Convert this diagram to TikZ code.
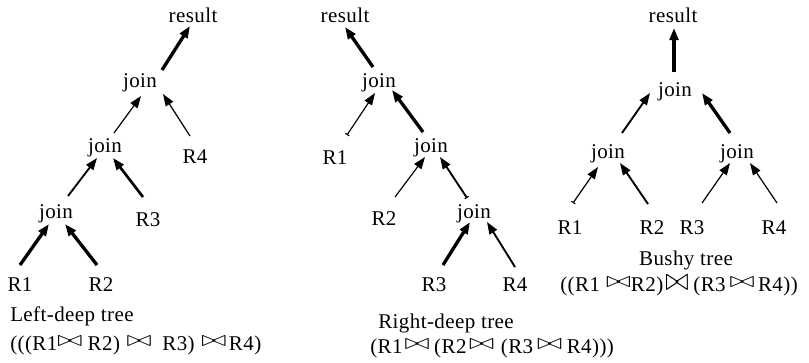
\documentclass[tikz,border=0pt]{standalone}
\usepackage{fontspec}
\setmainfont{Liberation Serif}[LetterSpace=2]
\usetikzlibrary{arrows.meta}
% join symbols used in the formulas (outline bow-ties)
\newcommand{\bt}{\raisebox{3pt}{\scalebox{1.6}[1.15]{$\bowtie$}}}
\newcommand{\bigbt}{\raisebox{0.3pt}{\scalebox{1.5}[1.7]{$\bowtie$}}}
\tikzset{
  lbl/.style={anchor=base, inner sep=0pt, font=\fontsize{15.75}{18}\selectfont},
  edge/.style={-{Triangle[length=9pt,width=6.5pt]}, line cap=butt},
  lwA/.style={edge, line width=0.9pt},
  lwB/.style={edge, line width=1.4pt},
  lwC/.style={edge, line width=2pt},
  lwD/.style={edge, line width=2.5pt},
  tickstart/.style={{Bar[width=3.5pt,line width=0.8pt]}-{Triangle[length=9pt,width=6.5pt]}},
}
\begin{document}
\begin{tikzpicture}[x=0.75pt, y=-0.75pt]
\useasboundingbox (0,0) rectangle (809,362);

% ---------- left-deep tree ----------
\node[lbl] (resL) at (193,22)  {result};
\node[lbl] (jL1)  at (140,87)  {join};
\node[lbl] (jL2)  at (105,152) {join};
\node[lbl] (jL3)  at (56,218)  {join};
\node[lbl] (R4L)  at (195,163) {R4};
\node[lbl] (R3L)  at (148,226) {R3};
\node[lbl] (R1L)  at (20,291)  {R1};
\node[lbl] (R2L)  at (101,291) {R2};
\node[lbl, anchor=base west] (capL)  at (10,321) {Left-deep tree};
\node[lbl, anchor=base west] (formL) at (10,350)
  {(((R1\bt\hspace{4pt}R2)\hspace{5pt}\bt\hspace{8pt}R3)\hspace{5pt}\bt\hspace{2pt}R4)};

\draw[lwD] ([shift={(22,-17)}]jL1.base) -- ([shift={(-3,4)}]resL.base);
\draw[lwA] ([shift={(9,-19)}]jL2.base)  -- ([shift={(1,9)}]jL1.base);
\draw[lwA] ([shift={(-5,-27)}]R4L.base) -- ([shift={(23,7)}]jL1.base);
\draw[lwB] ([shift={(12,-22)}]jL3.base) -- ([shift={(-8,6)}]jL2.base);
\draw[lwC] ([shift={(-5,-29)}]R3L.base) -- ([shift={(8,6)}]jL2.base);
\draw[lwD] ([shift={(0,-26)}]R1L.base)  -- ([shift={(-7,6)}]jL3.base);
\draw[lwD] ([shift={(-4,-26)}]R2L.base) -- ([shift={(9,6)}]jL3.base);

% ---------- right-deep tree ----------
\node[lbl] (resM) at (345,22)  {result};
\node[lbl] (jM1)  at (379,87)  {join};
\node[lbl] (R1M)  at (335,164) {R1};
\node[lbl] (jM2)  at (431,152) {join};
\node[lbl] (R2M)  at (384,225) {R2};
\node[lbl] (jM3)  at (474,218) {join};
\node[lbl] (R3M)  at (434,291) {R3};
\node[lbl] (R4M)  at (515,291) {R4};
\node[lbl, anchor=base west] (capM)  at (378,328) {Right-deep tree};
\node[lbl, anchor=base west] (formM) at (370,353)
  {(R1\hspace{1.5pt}\bt\hspace{3.5pt}(R2\hspace{2pt}\bt\hspace{5pt}(R3\hspace{3pt}\bt\hspace{3.5pt}R4)))};

\draw[lwD] ([shift={(-6,-20)}]jM1.base) -- ([shift={(0,5)}]resM.base);
\draw[lwA, tickstart] ([shift={(12,-29)}]R1M.base) -- ([shift={(-4,6)}]jM1.base);
\draw[lwD] ([shift={(-8,-20)}]jM2.base) -- ([shift={(13,3)}]jM1.base);
\draw[lwA] ([shift={(11,-28)}]R2M.base) -- ([shift={(-6,5)}]jM2.base);
\draw[lwB, tickstart] ([shift={(-7,-20)}]jM3.base) -- ([shift={(9,5)}]jM2.base);
\draw[lwD] ([shift={(9,-26)}]R3M.base) -- ([shift={(-4,4)}]jM3.base);
\draw[lwB] ([shift={(0,-24)}]R4M.base) -- ([shift={(13,4)}]jM3.base);

% ---------- bushy tree ----------
\node[lbl] (resR) at (673,22)  {result};
\node[lbl] (jR1)  at (675,96)  {join};
\node[lbl] (jRL)  at (608,158) {join};
\node[lbl] (jRR)  at (737,158) {join};
\node[lbl] (R1R)  at (570,234) {R1};
\node[lbl] (R2R)  at (652,234) {R2};
\node[lbl] (R3R)  at (692,234) {R3};
\node[lbl] (R4R)  at (774,234) {R4};
\node[lbl] (capR)  at (686,265) {Bushy tree};
\node[lbl, anchor=base west] (formR) at (560,291)
  {((R1\hspace{4.5pt}\bt R2)\hspace{1.5pt}\bigbt\hspace{3.5pt}(R3\hspace{3pt}\bt\hspace{2.5pt}R4))};

\draw[edge, line width=2.8pt] ([shift={(-1,-24)}]jR1.base) -- ([shift={(1,6)}]resR.base);
\draw[lwB] ([shift={(14,-25)}]jRL.base) -- ([shift={(-25,-3)}]jR1.base);
\draw[lwD] ([shift={(-7,-25)}]jRR.base) -- ([shift={(27,-3)}]jR1.base);
\draw[lwA, tickstart] ([shift={(3,-31)}]R1R.base) -- ([shift={(-10,9)}]jRL.base);
\draw[lwB] ([shift={(-4,-30)}]R2R.base) -- ([shift={(12,5)}]jRL.base);
\draw[lwA] ([shift={(10,-31)}]R3R.base) -- ([shift={(-7,5)}]jRR.base);
\draw[lwA] ([shift={(3,-31)}]R4R.base) -- ([shift={(13,5)}]jRR.base);
\end{tikzpicture}
\end{document}
